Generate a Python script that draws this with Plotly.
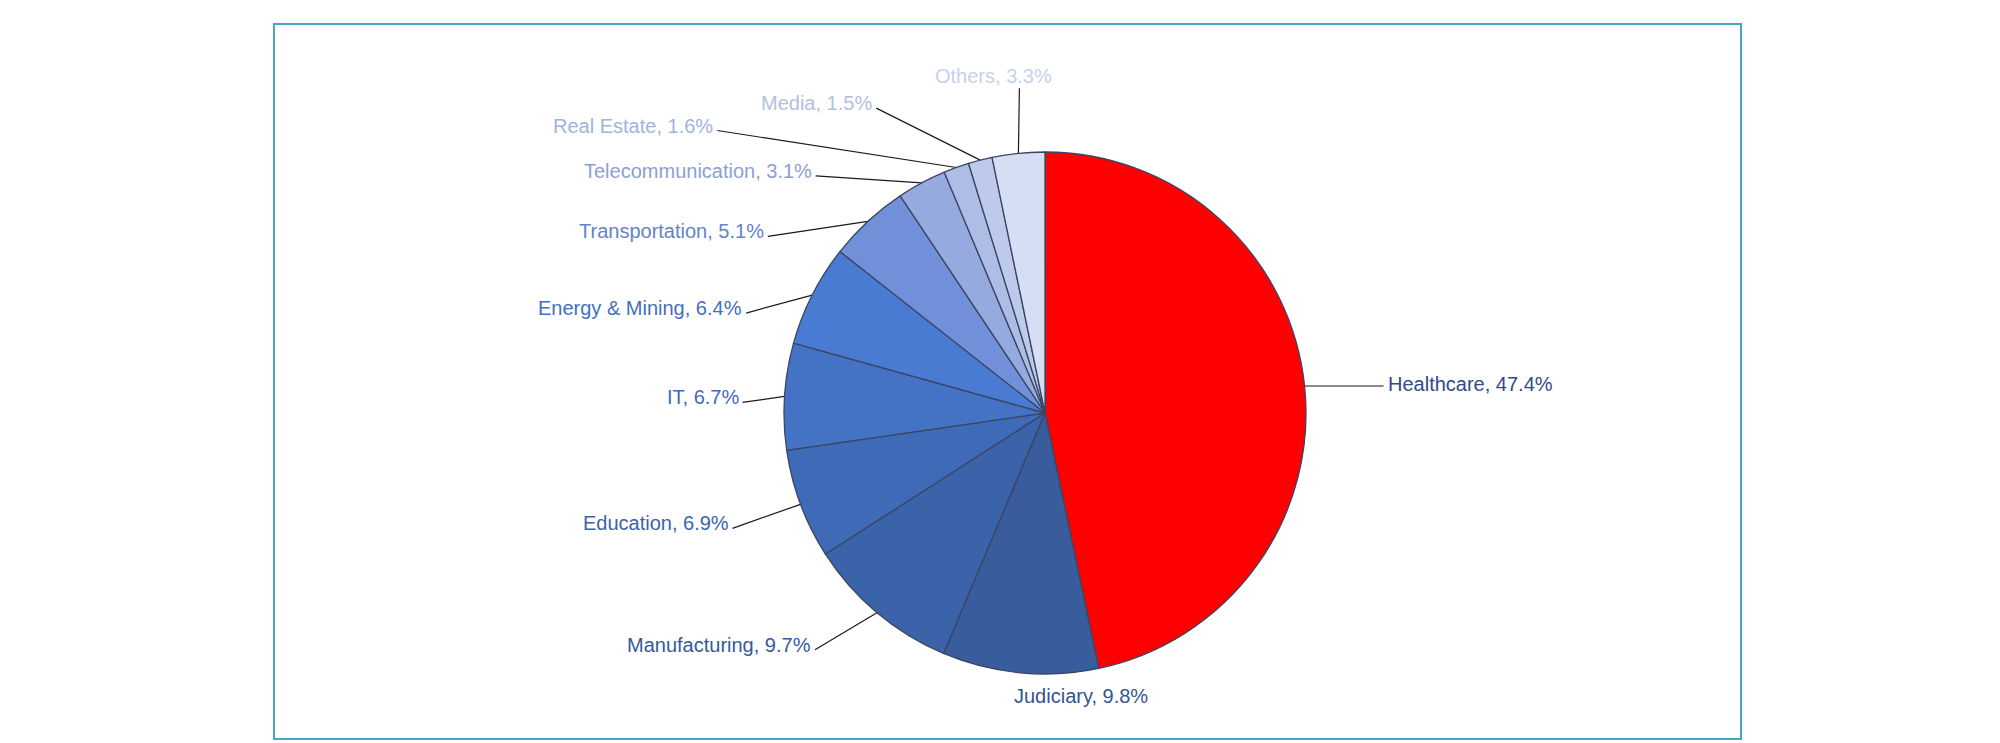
import math
import plotly.graph_objects as go

# ---- data ----
categories = ["Healthcare", "Judiciary", "Manufacturing", "Education", "IT",
              "Energy & Mining", "Transportation", "Telecommunication",
              "Real Estate", "Media", "Others"]
shares = [47.4, 9.8, 9.7, 6.9, 6.7, 6.4, 5.1, 3.1, 1.6, 1.5, 3.3]

# ---- styles ----
slice_colors = ["#FF0000", "#385C9C", "#3B63A9", "#3F6AB7", "#4473C5",
                "#4A7BD2", "#7290D9", "#96AADF", "#AEBDE6", "#BECAEC", "#D6DEF3"]
label_colors = ["#2F4C86", "#34568F", "#355A9A", "#3A63AC", "#3F6AB8",
                "#456FC0", "#6383CA", "#8BA0D5", "#A1B3DE", "#B2C0E4", "#C6D1ED"]
# leader line offsets (px) from slice edge point to label anchor
label_dx = [79, 61, -62, -68, -42, -66, -100, -106, -239, -104, 1]
label_dy = [0, 23, 37, 24, 6, 18, 15, -7, -37, -52, -65]

W, H = 2000, 743
CX, CY, R = 1037, 405, 261
FONT = "Liberation Sans, Arial, sans-serif"

fig = go.Figure()

fig.add_trace(go.Pie(
    labels=categories, values=shares, sort=False, direction="clockwise",
    rotation=0, textinfo="none", showlegend=False,
    marker=dict(colors=slice_colors, line=dict(color="#3A4663", width=1.3)),
    domain=dict(x=[(CX - R) / W, (CX + R) / W],
                y=[1 - (CY + R) / H, 1 - (CY - R) / H]),
    hovertemplate="%{label}, %{value:.1f}%<extra></extra>",
))

total = sum(shares)
cum = 0.0
lx, ly = [], []
annotations = []
for i, (name, v) in enumerate(zip(categories, shares)):
    mid = (cum + v / 2) / total * 2 * math.pi
    cum += v
    ex = CX + R * math.sin(mid)
    ey = CY - R * math.cos(mid)
    ax = ex + label_dx[i]
    ay = ey + label_dy[i]
    text = f"{name}, {v:.1f}%"
    font = dict(family=FONT, size=20, color=label_colors[i])
    if name == "Judiciary":
        annotations.append(dict(x=ax, y=ay, text=text, xanchor="center",
                                yanchor="middle", showarrow=False, font=font,
                                xref="x", yref="y"))
        continue
    lx += [ex, ax, None]
    ly += [ey, ay, None]
    if name == "Others":
        annotations.append(dict(x=ax - 26, y=ay - 12, text=text, xanchor="center",
                                yanchor="middle", showarrow=False, font=font,
                                xref="x", yref="y"))
    elif ax > CX:
        annotations.append(dict(x=ax + 2, y=ay - 2, text=text, xanchor="left",
                                yanchor="middle", showarrow=False, font=font,
                                xref="x", yref="y"))
    else:
        annotations.append(dict(x=ax - 2, y=ay - 5, text=text, xanchor="right",
                                yanchor="middle", showarrow=False, font=font,
                                xref="x", yref="y"))

fig.add_trace(go.Scatter(x=lx, y=ly, mode="lines", hoverinfo="skip",
                         line=dict(color="#1a1a1a", width=1.2), showlegend=False))

fig.add_shape(type="rect", xref="x", yref="y", x0=266, y0=16, x1=1733, y1=731,
              line=dict(color="#4AA3C8", width=2), fillcolor="rgba(0,0,0,0)")

fig.update_layout(
    width=W, height=H, margin=dict(l=0, r=0, t=0, b=0),
    paper_bgcolor="white", plot_bgcolor="rgba(0,0,0,0)",
    xaxis=dict(range=[0, W], visible=False, fixedrange=True, domain=[0, 1]),
    yaxis=dict(range=[H, 0], visible=False, fixedrange=True, domain=[0, 1]),
    annotations=annotations, showlegend=False,
)

fig.write_html("out.html")
